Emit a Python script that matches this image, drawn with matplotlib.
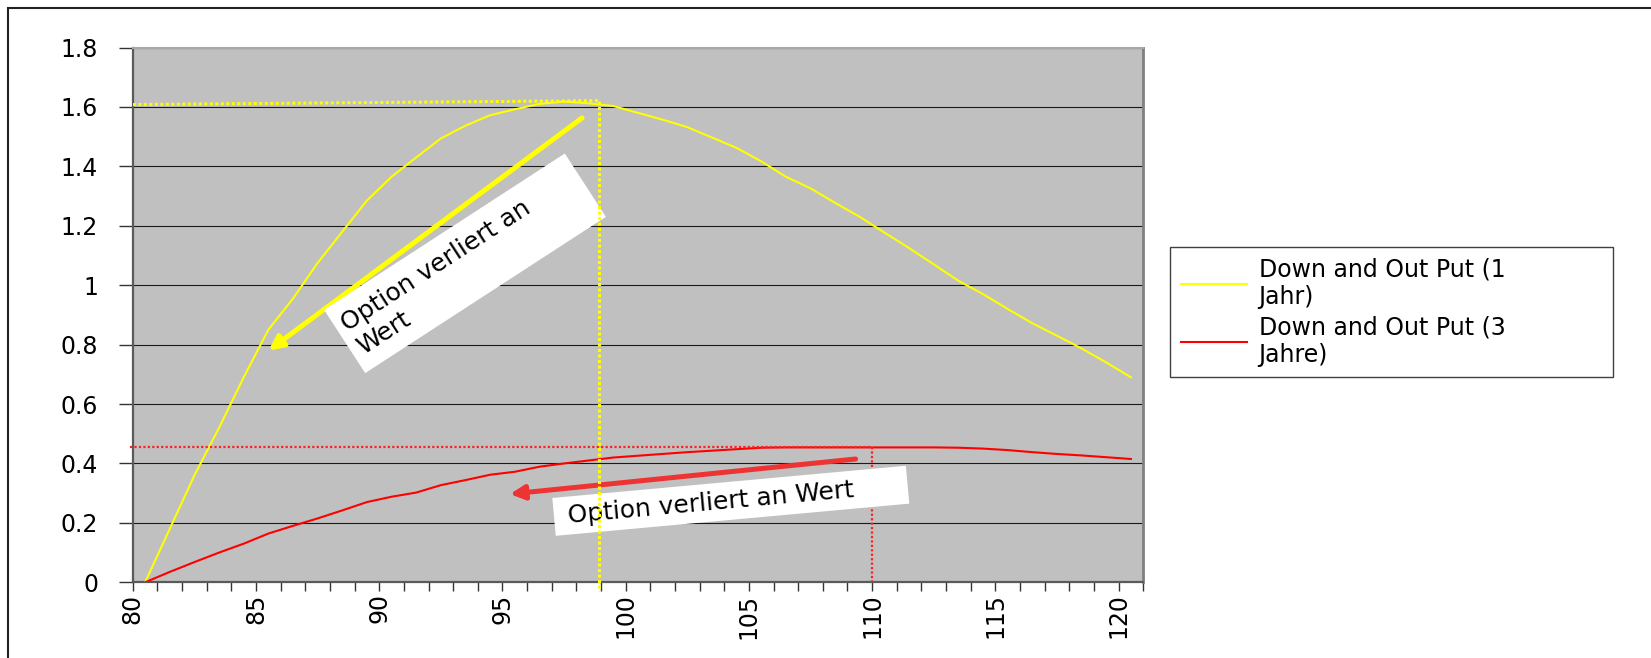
import numpy as np
import matplotlib
matplotlib.use('Agg')
import matplotlib.pyplot as plt
from matplotlib.patches import Rectangle
from matplotlib.transforms import IdentityTransform

############################################
# spot prices on the category axis and option values
spot = np.arange(80, 121)

put_1y = [0.00, 0.18, 0.36, 0.52, 0.69, 0.85, 0.955, 1.075, 1.18, 1.285,
          1.365, 1.43, 1.494, 1.537, 1.572, 1.592, 1.61, 1.618, 1.612, 1.603,
          1.58, 1.557, 1.532, 1.497, 1.462, 1.417, 1.365, 1.326, 1.277, 1.23,
          1.177, 1.125, 1.07, 1.015, 0.97, 0.92, 0.872, 0.83, 0.787, 0.74, 0.69]
put_3y = [0.00, 0.035, 0.068, 0.10, 0.13, 0.164, 0.19, 0.215, 0.242, 0.27,
          0.288, 0.302, 0.327, 0.344, 0.362, 0.372, 0.389, 0.40, 0.41, 0.42,
          0.426, 0.432, 0.438, 0.443, 0.448, 0.453, 0.454, 0.454, 0.454, 0.454,
          0.454, 0.454, 0.454, 0.453, 0.45, 0.445, 0.438, 0.432, 0.427, 0.421, 0.415]

labels = ['Down and Out Put (1\nJahr)', 'Down and Out Put (3\nJahre)']
note_1y = 'Option verliert an\nWert'
note_3y = 'Option verliert an Wert'

# marker lines at the maxima (x, level)
peak_1y_x, peak_1y_y = 98.9, (1.608, 1.621)
peak_3y_x, peak_3y_y = 110.0, 0.454
# arrows: (tail, head) in data units
arrow_1y = ((98.23, 1.563), (85.51, 0.78))
arrow_3y = ((109.33, 0.415), (95.30, 0.297))

yticks = [0, 0.2, 0.4, 0.6, 0.8, 1.0, 1.2, 1.4, 1.6, 1.8]
yticklabels = ['0', '0.2', '0.4', '0.6', '0.8', '1', '1.2', '1.4', '1.6', '1.8']
############################################

W, H = 1651, 658
plt.rcParams['font.family'] = ['DejaVu Sans']
fig = plt.figure(figsize=(W / 100, H / 100), dpi=100)
px = IdentityTransform()

# outer frame (only top and left edge fall inside the picture)
fig.add_artist(Rectangle((7.7, -20), 1700, H - 8 + 20, transform=px,
                         fill=False, ec='#222222', lw=1.5))

ax = fig.add_axes([132.8 / W, 1 - 582.3 / H, 1010.4 / W, (582.3 - 47.5) / H])
ax.set_facecolor('#C0C0C0')

# Excel category axis: every point sits in the middle of its slot
ax.plot(spot + 0.5, put_1y, color='#FFFF00', lw=1.5, label=labels[0], zorder=3)
ax.plot(spot + 0.5, put_3y, color='#FF0000', lw=1.5, label=labels[1], zorder=3)

ax.plot([80, peak_1y_x], peak_1y_y, color='#FFFF00', lw=2.2,
        ls=(0, (1, 0.8)), zorder=3)
ax.plot([peak_1y_x, peak_1y_x], [peak_1y_y[1], -0.03], color='#FFFF00', lw=2.2,
        ls=(0, (1, 0.8)), zorder=7, clip_on=False)
ax.plot([79.9, peak_3y_x], [peak_3y_y, peak_3y_y], color='#FF2020', lw=1.6,
        ls=(0, (1, 1)), zorder=3, clip_on=False)
ax.plot([peak_3y_x, peak_3y_x], [peak_3y_y, 0], color='#FF2020', lw=1.6,
        ls=(0, (1, 1)), zorder=3)

for (tail, head), col in [(arrow_1y, '#FFFF00'), (arrow_3y, '#EE3333')]:
    ax.annotate('', xy=head, xytext=tail, zorder=4,
                arrowprops=dict(arrowstyle='-|>,head_length=0.7,head_width=0.35',
                                color=col, lw=3.6, shrinkA=0, shrinkB=0,
                                mutation_scale=12))

# white rotated text boxes (pixel layout)
def note(cx, cy, w, h, ang, text, inset):
    cy = H - cy
    ax.add_patch(Rectangle((cx - w / 2, cy - h / 2), w, h, angle=ang,
                           rotation_point='center', transform=px,
                           fc='white', ec='none', zorder=5, clip_on=False))
    a = np.deg2rad(ang)
    d = w / 2 - inset
    ax.text(cx - d * np.cos(a), cy - d * np.sin(a), text, transform=px,
            rotation=ang, rotation_mode='anchor', ha='left', va='center',
            multialignment='left', fontsize=18, zorder=6)

note(465, 263.3, 287, 75.5, 33, note_1y, 8)
note(730.8, 500.8, 355, 38, 5.2, note_3y, 14)

ax.set_xlim(80, 121)
ax.set_ylim(0, 1.8)
xt = np.arange(80, 122)
ax.set_xticks(xt, [str(v) if v % 5 == 0 and v <= 120 else '' for v in xt])
ax.set_yticks(yticks, yticklabels)
ax.tick_params(axis='y', length=10, width=1, pad=15, labelsize=17, color='#333333')
ax.tick_params(axis='x', length=6.5, width=1, pad=1.5, labelsize=17,
               labelrotation=90, color='#333333')
ax.grid(axis='y', color='#1a1a1a', lw=0.8)
ax.set_axisbelow(True)
for s in ['left', 'bottom']:
    ax.spines[s].set_color('#5a5a5a')
    ax.spines[s].set_linewidth(1.6)
ax.spines['right'].set_color('#808080')
ax.spines['right'].set_linewidth(2)
ax.spines['top'].set_color('#a8a8a8')
ax.spines['top'].set_linewidth(1.5)

leg = ax.legend(loc='upper left', bbox_to_anchor=(1170 / W, 0, 442.7 / W, 1 - 246.7 / H),
                bbox_transform=fig.transFigure, mode='expand', fontsize=17,
                fancybox=False, framealpha=1, edgecolor='#404040', borderpad=0.45,
                handlelength=2.8, handletextpad=0.5, labelspacing=0.25,
                borderaxespad=0)
leg.get_frame().set_linewidth(1)

plt.savefig('out.png', dpi=100)
